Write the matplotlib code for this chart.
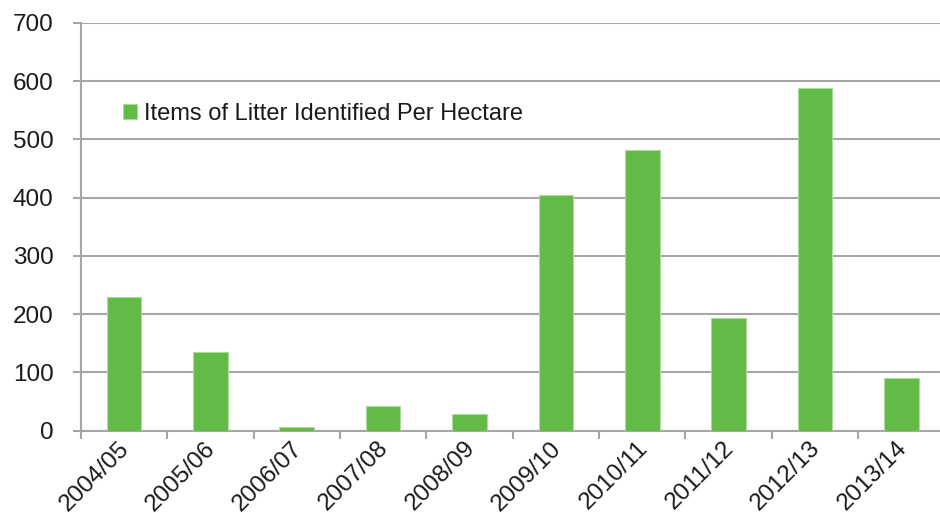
import matplotlib
matplotlib.use("Agg")
import matplotlib.pyplot as plt
import matplotlib.transforms as mtransforms
import numpy as np

# Data
seasons = ['2004/05', '2005/06', '2006/07', '2007/08', '2008/09',
           '2009/10', '2010/11', '2011/12', '2012/13', '2013/14']
litter_per_hectare = [229, 134, 6, 42, 29, 404, 481, 194, 589, 91]
series_label = 'Items of Litter Identified Per Hectare'

BAR_GREEN = '#62bb47'
GRID_GRAY = '#a6a6a6'

plt.rcParams['font.family'] = ['Liberation Sans', 'DejaVu Sans']

fig = plt.figure(figsize=(9.4, 5.13), dpi=100)
# plot area in pixels: x 80.7 -> 944.7, y 23 -> 430.5 (from the top)
ax = fig.add_axes([80.7 / 940, 1 - 430.5 / 513, 864 / 940, 407.5 / 513])

x = np.arange(len(seasons))
ax.bar(x, litter_per_hectare, width=0.4, color=BAR_GREEN,
       edgecolor='#a8dc98', linewidth=0.8, label=series_label, zorder=3)

ax.set_xlim(-0.5, len(seasons) - 0.5)
ax.set_ylim(0, 700)
ax.set_yticks(range(0, 701, 100))
ax.yaxis.grid(True, color=GRID_GRAY, linewidth=1.5, zorder=0)

ax.set_xticks(x)
ax.set_xticklabels(seasons, rotation=45, ha='right', va='top',
                   rotation_mode='anchor')
ax.set_xticks(np.arange(-0.5, len(seasons)), minor=True)
ax.tick_params(axis='x', which='major', length=0, pad=7, labelsize=17.5,
               labelcolor='#1a1a1a')
ax.tick_params(axis='x', which='minor', length=6, width=1.5, color=GRID_GRAY,
               direction='out')
ax.tick_params(axis='y', length=5.5, width=1.5, color=GRID_GRAY, pad=14,
               labelsize=17.5, labelcolor='#1a1a1a')

# nudge the rotated labels a little left/up, like the reference
shift = mtransforms.ScaledTranslation(-6 / 100, 3 / 100, fig.dpi_scale_trans)
for lbl in ax.get_xticklabels():
    lbl.set_transform(lbl.get_transform() + shift)

for side in ['top', 'right']:
    ax.spines[side].set_visible(False)
for side in ['left', 'bottom']:
    ax.spines[side].set_color(GRID_GRAY)
    ax.spines[side].set_linewidth(1.5)

leg = ax.legend(loc='center left', bbox_to_anchor=(0.049, 0.777), frameon=False,
                fontsize=17, handlelength=0.6, handleheight=0.6,
                handletextpad=0.3, borderaxespad=0, borderpad=0)
for t in leg.get_texts():
    t.set_color('#1a1a1a')

fig.savefig('out.png', dpi=100)
